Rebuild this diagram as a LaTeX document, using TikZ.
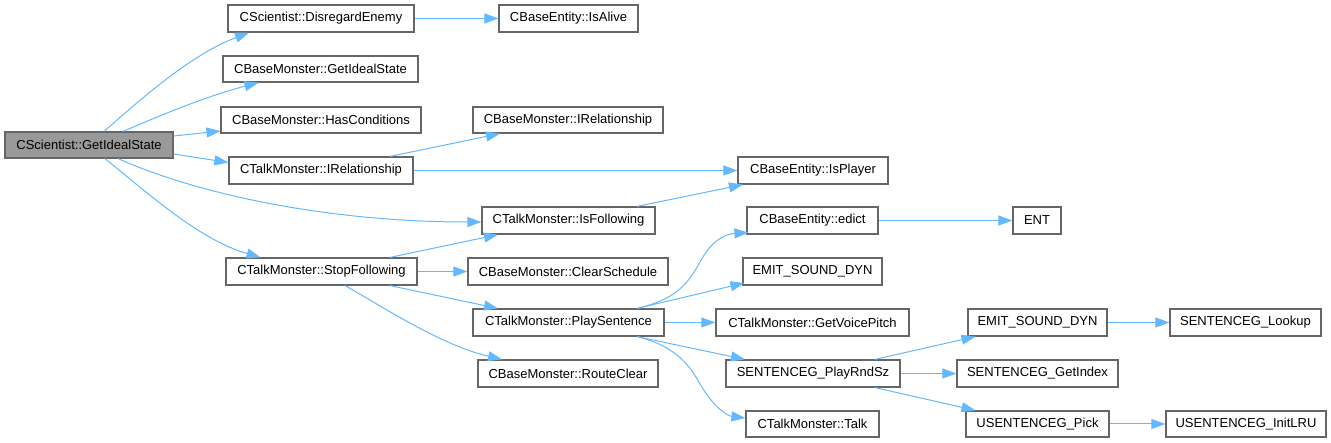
\documentclass[tikz,border=0pt]{standalone}
\usepackage{fontspec}
\setmainfont{Liberation Sans}
\usetikzlibrary{arrows.meta,calc}
\definecolor{edgeblue}{HTML}{63B8FF}
\definecolor{boxgrey}{HTML}{666666}
\definecolor{mainfill}{HTML}{999999}
\begin{document}
\begin{tikzpicture}[x=1pt,y=-1pt,
  fn/.style={draw=boxgrey,line width=1.2pt,fill=white,inner sep=0pt,
    font=\fontsize{13}{15}\selectfont,text=black},
  mainfn/.style={fn,fill=mainfill},
  call/.style={draw=edgeblue,line width=1pt,
    -{Triangle[length=14pt,width=10pt]}}]
\useasboundingbox (0,0) rectangle (1331,443);
% nodes
\node[mainfn,minimum width=168pt,minimum height=26pt] (A) at (89,145) {CScientist::GetIdealState};
\node[fn,minimum width=186pt,minimum height=27pt] (B) at (321,18.5) {CScientist::DisregardEnemy};
\node[fn,minimum width=195pt,minimum height=26pt] (C) at (320.5,69) {CBaseMonster::GetIdealState};
\node[fn,minimum width=200pt,minimum height=26pt] (D) at (321,120) {CBaseMonster::HasConditions};
\node[fn,minimum width=184pt,minimum height=27pt] (E) at (321,170.5) {CTalkMonster::IRelationship};
\node[fn,minimum width=173pt,minimum height=27pt] (F) at (568.5,220.5) {CTalkMonster::IsFollowing};
\node[fn,minimum width=191pt,minimum height=27pt] (G) at (321.5,271.5) {CTalkMonster::StopFollowing};
\node[fn,minimum width=139pt,minimum height=27pt] (H) at (568.5,18.5) {CBaseEntity::IsAlive};
\node[fn,minimum width=190pt,minimum height=26pt] (I) at (568,120) {CBaseMonster::IRelationship};
\node[fn,minimum width=150pt,minimum height=27pt] (J) at (813,170.5) {CBaseEntity::IsPlayer};
\node[fn,minimum width=200pt,minimum height=27pt] (K) at (568,271.5) {CBaseMonster::ClearSchedule};
\node[fn,minimum width=191pt,minimum height=27pt] (L) at (568.5,322.5) {CTalkMonster::PlaySentence};
\node[fn,minimum width=180pt,minimum height=27pt] (M) at (568,373.5) {CBaseMonster::RouteClear};
\node[fn,minimum width=131pt,minimum height=27pt] (N) at (812.5,220.5) {CBaseEntity::edict};
\node[fn,minimum width=48pt,minimum height=27pt] (O) at (1037,220.5) {ENT};
\node[fn,minimum width=139pt,minimum height=27pt] (P) at (812.5,271.5) {EMIT\_SOUND\_DYN};
\node[fn,minimum width=193pt,minimum height=27pt] (Q) at (812.5,322.5) {CTalkMonster::GetVoicePitch};
\node[fn,minimum width=174pt,minimum height=27pt] (R) at (813,373.5) {SENTENCEG\_PlayRndSz};
\node[fn,minimum width=133pt,minimum height=26pt] (S) at (812.5,424) {CTalkMonster::Talk};
\node[fn,minimum width=139pt,minimum height=27pt] (T) at (1037.5,322.5) {EMIT\_SOUND\_DYN};
\node[fn,minimum width=151pt,minimum height=27pt] (U) at (1245.5,322.5) {SENTENCEG\_Lookup};
\node[fn,minimum width=161pt,minimum height=27pt] (V) at (1037.5,373.5) {SENTENCEG\_GetIndex};
\node[fn,minimum width=143pt,minimum height=26pt] (W) at (1037.5,424) {USENTENCEG\_Pick};
\node[fn,minimum width=160pt,minimum height=26pt] (X) at (1246,424) {USENTENCEG\_InitLRU};
% edges
\draw[call] ($(A.north)+(15,0)$) .. controls (140,100) and (190,55) .. ($(B.south)+(-72,0)$);
\draw[call] ($(A.north)+(34,0)$) .. controls (150,120) and (200,98) .. ($(C.south)+(-62,0)$);
\draw[call] ($(A.east)+(0,-9)$) -- ($(D.west)+(0,11)$);
\draw[call] ($(A.east)+(0,9)$) -- ($(E.west)+(0,-8)$);
\draw[call] ($(A.south)+(29,0)$) .. controls (200,195) and (330,222) .. ($(F.west)+(0,1.5)$);
\draw[call] ($(A.south)+(16,0)$) .. controls (150,195) and (200,240) .. ($(G.north)+(-61,0)$);
\draw[call] (B.east) -- (H.west);
\draw[call] ($(E.north)+(69,0)$) -- ($(I.south)+(-68,0)$);
\draw[call] (E.east) -- (J.west);
\draw[call] ($(F.north)+(68.5,0)$) -- ($(J.south)+(-70,0)$);
\draw[call] ($(G.north)+(68.5,0)$) -- ($(F.south)+(-70.5,0)$);
\draw[call] (G.east) -- (K.west);
\draw[call] ($(G.south)+(68.5,0)$) -- ($(L.north)+(-70.5,0)$);
\draw[call] ($(G.south)+(23.5,0)$) .. controls (380,305) and (440,345) .. ($(M.north)+(-66,0)$);
\draw[call] ($(L.north)+(68.5,0)$) .. controls (672,300) and (686,288) .. (700,262) .. controls (712,240) and (725,234) .. ($(N.south west)+(2,-2)$);
\draw[call] ($(L.north)+(68.5,0)$) -- ($(P.west)+(2,11.5)$);
\draw[call] (L.east) -- (Q.west);
\draw[call] ($(L.south)+(68.5,0)$) -- ($(R.north)+(-68,0)$);
\draw[call] ($(L.south)+(68.5,0)$) .. controls (676,346) and (690,366) .. (700,384) .. controls (714,408) and (728,416) .. ($(S.west)+(0,-6)$);
\draw[call] ($(R.north)+(62,0)$) -- ($(T.south)+(-62,0)$);
\draw[call] (R.east) -- (V.west);
\draw[call] ($(R.south)+(62,0)$) -- ($(W.north)+(-62,0)$);
\draw[call] (T.east) -- (U.west);
\draw[call] (W.east) -- (X.west);
\draw[call] (N.east) -- (O.west);
\end{tikzpicture}
\end{document}
